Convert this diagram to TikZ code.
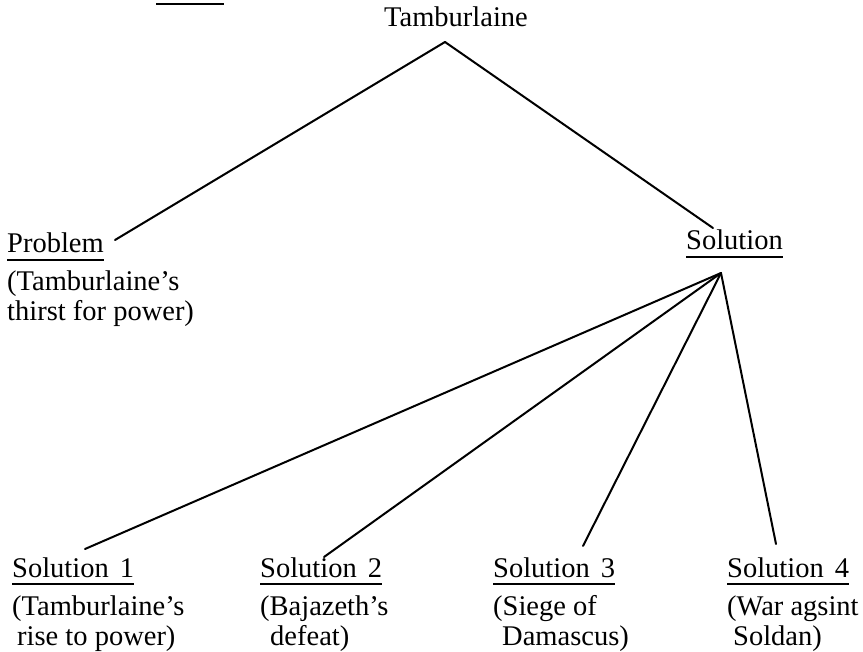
\documentclass[tikz,border=0pt]{standalone}
\usepackage{fontspec}
\setmainfont{Liberation Serif}

% underlined heading: a 2pt rule set 8pt below the baseline
\newsavebox\headbox
\newcommand\ulbox[1]{\sbox\headbox{#1}\rlap{\raisebox{-8pt}{\rule{\wd\headbox}{2.2pt}}}\usebox\headbox}
% three-line label: underlined heading, then two lines of text
\newcommand\lbl[3]{\vtop{\baselineskip=30pt\hbox{\ulbox{#1}}\vskip8pt\hbox{#2}\hbox{#3}}}

\begin{document}
\begin{tikzpicture}[x=1pt,y=-1pt,
  lab/.style={inner sep=0pt, anchor=base west, font=\fontsize{28.5}{30}\selectfont},
  branch/.style={line width=2pt, line cap=round}]
\useasboundingbox (0,0) rectangle (863,652);
\fill[white] (0,0) rectangle (863,652);

% short rule at the top edge
\coordinate (barL) at (156,4.3);
\coordinate (barR) at (224,4.3);
\draw[line width=2.4pt] (barL) -- (barR);

% labels
\node[lab, anchor=base] (root) at (456,27) {Tamburlaine};
\node[lab] (prob) at (7,253) {\lbl{Problem}{(Tamburlaine's}{thirst for power)}};
\node[lab] (sol) at (686,250) {\ulbox{Solution}};
\node[lab] (s1) at (12,577) {\lbl{Solution\hspace{11pt}1}{(Tamburlaine's}{\hskip5pt rise to power)}};
\node[lab] (s2) at (260,577) {\lbl{Solution\hspace{11pt}2}{(Bajazeth's}{\hskip10pt defeat)}};
\node[lab] (s3) at (493,577) {\lbl{Solution\hspace{11pt}3}{(Siege of}{\hskip9pt Damascus)}};
\node[lab] (s4) at (727,577) {\lbl{Solution\hspace{11pt}4}{(War agsint}{\hskip6pt Soldan)}};

% branch points and line ends
\coordinate (fork) at (445,42);
\coordinate (probend) at (115,240);
\coordinate (solend) at (713,228);
\coordinate (hub) at (721,273);
\coordinate (e1) at (85,549);
\coordinate (e2) at (324,557);
\coordinate (e3) at (583,546);
\coordinate (e4) at (776,544);

% top level
\draw[branch] (fork) -- (probend);
\draw[branch] (fork) -- (solend);
% the four solutions
\draw[branch] (hub) -- (e1);
\draw[branch] (hub) -- (e2);
\draw[branch] (hub) -- (e3);
\draw[branch] (hub) -- (e4);
\end{tikzpicture}
\end{document}
